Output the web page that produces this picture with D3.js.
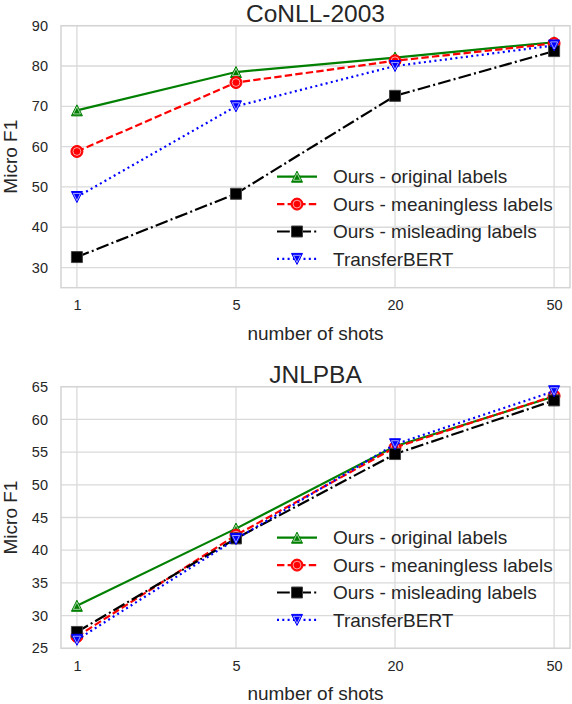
<!DOCTYPE html>
<html>
<head>
  <title>Few-shot NER</title>
  <script src="https://d3js.org/d3.v7.min.js"></script>
  <style>
    body { margin: 0; background: #fff; }
    text { font-family: "Liberation Sans", Arial, sans-serif; fill: #262626; }
    .grid line { stroke: #dadada; stroke-width: 1.3px; }
    .frame { fill: none; stroke: #d4d4d4; stroke-width: 1.5px; }
  </style>
</head>
<body>
  <svg id="chart" width="572" height="704"></svg>

  <script>
    // Data
    var shots = ["1", "5", "20", "50"];
    var seriesNames = ["Ours - original labels", "Ours - meaningless labels",
                       "Ours - misleading labels", "TransferBERT"];

    var conllOriginal    = [69.0, 78.5, 82.1, 85.9];
    var conllMeaningless = [58.8, 75.9, 81.3, 85.6];
    var conllMisleading  = [32.6, 48.3, 72.6, 83.7];
    var conllTransfer    = [47.5, 70.0, 80.0, 85.1];

    var jnlOriginal    = [31.5, 43.3, 55.9, 63.5];
    var jnlMeaningless = [26.8, 42.3, 55.7, 63.6];
    var jnlMisleading  = [27.5, 41.8, 54.7, 62.9];
    var jnlTransfer    = [26.3, 41.7, 56.2, 64.3];

    var conllTicks = [30, 40, 50, 60, 70, 80, 90];
    var jnlTicks = [25, 30, 35, 40, 45, 50, 55, 60, 65];

    // line styles: colour, dash, marker
    var styles = [
      { color: "#008000", dash: null, marker: "up" },
      { color: "#ff0000", dash: "7.4,3.2", marker: "circle" },
      { color: "#000000", dash: "12.8,3.2,2,3.2", marker: "square" },
      { color: "#0000ff", dash: "2,3.3", marker: "down" }
    ];

    // triangles centred on their bounding box, like matplotlib
    var triUp = { draw: function(ctx, size) {
      var h = Math.sqrt(size) / 2;
      ctx.moveTo(0, -h); ctx.lineTo(h, h); ctx.lineTo(-h, h); ctx.closePath();
    }};
    var triDown = { draw: function(ctx, size) {
      var h = Math.sqrt(size) / 2;
      ctx.moveTo(0, h); ctx.lineTo(h, -h); ctx.lineTo(-h, -h); ctx.closePath();
    }};
    var symbolTypes = { up: triUp, down: triDown, circle: d3.symbolCircle, square: d3.symbolSquare };
    var symbolSizes = { up: 121, down: 121, circle: 113, square: 121 };

    var svg = d3.select("#chart");
    var left = 61, right = 570;

    function drawMarker(g, style, x, y) {
      var type = symbolTypes[style.marker];
      var size = symbolSizes[style.marker];
      g.append("path")
        .attr("transform", "translate(" + x + "," + y + ")")
        .attr("d", d3.symbol().type(type).size(size)())
        .attr("fill", style.color)
        .attr("stroke", style.marker == "square" ? "#444" : style.color)
        .attr("stroke-width", 1);
      g.append("path")
        .attr("transform", "translate(" + x + "," + y + ")")
        .attr("d", d3.symbol().type(type).size(size * 0.42)())
        .attr("fill", "none")
        .attr("stroke", "#fff")
        .attr("stroke-width", 0.7)
        .attr("opacity", style.marker == "square" ? 0 : 0.9);
    }

    function panel(title, top, bottom, yDomain, yTicks, series) {
      var g = svg.append("g");

      var x = d3.scaleLinear().domain([-0.1, 3.1]).range([left, right]);
      var y = d3.scaleLinear().domain(yDomain).range([bottom, top]);

      // grid
      var grid = g.append("g").attr("class", "grid");
      grid.selectAll(".gy").data(yTicks).enter().append("line")
        .attr("x1", left).attr("x2", right)
        .attr("y1", function(d) { return y(d); })
        .attr("y2", function(d) { return y(d); });
      grid.selectAll(".gx").data(shots).enter().append("line")
        .attr("y1", top).attr("y2", bottom)
        .attr("x1", function(d, i) { return x(i); })
        .attr("x2", function(d, i) { return x(i); });

      g.append("rect").attr("class", "frame")
        .attr("x", left).attr("y", top)
        .attr("width", right - left).attr("height", bottom - top);

      // axes, seaborn style: no tick marks, no domain line
      var yAxis = g.append("g")
        .attr("transform", "translate(" + left + ",0)")
        .call(d3.axisLeft(y).tickValues(yTicks).tickSize(0).tickPadding(13));
      var xAxis = g.append("g")
        .attr("transform", "translate(0," + bottom + ")")
        .call(d3.axisBottom(x).tickValues([0, 1, 2, 3])
          .tickFormat(function(i) { return shots[i]; })
          .tickSize(0).tickPadding(12));
      [xAxis, yAxis].forEach(function(a) {
        a.select(".domain").remove();
        a.selectAll("text")
          .style("font-family", "'Liberation Sans', Arial, sans-serif")
          .style("font-size", "14.5px")
          .attr("fill", "#333");
      });

      // title and labels
      g.append("text")
        .attr("x", (left + right) / 2).attr("y", top - 4)
        .attr("text-anchor", "middle")
        .style("font-size", "24.5px")
        .text(title);
      g.append("text")
        .attr("x", (left + right) / 2).attr("y", bottom + 52)
        .attr("text-anchor", "middle")
        .style("font-size", "19px")
        .text("number of shots");
      g.append("text")
        .attr("transform", "translate(17," + (top + bottom) / 2 + ") rotate(-90)")
        .attr("text-anchor", "middle")
        .style("font-size", "19px")
        .text("Micro F1");

      // lines + markers
      var line = d3.line()
        .x(function(d, i) { return x(i); })
        .y(function(d) { return y(d); });

      series.forEach(function(values, s) {
        var st = styles[s];
        g.append("path")
          .datum(values)
          .attr("d", line)
          .attr("fill", "none")
          .attr("stroke", st.color)
          .attr("stroke-width", 2.2)
          .attr("stroke-dasharray", st.dash);
        values.forEach(function(v, i) { drawMarker(g, st, x(i), y(v)); });
      });

      // legend
      var legend = g.append("g")
        .attr("transform", "translate(277," + (top + 151) + ")");
      seriesNames.forEach(function(name, s) {
        var st = styles[s];
        var row = legend.append("g").attr("transform", "translate(0," + s * 27.4 + ")");
        row.append("line")
          .attr("x1", 0).attr("x2", 40).attr("y1", 0).attr("y2", 0)
          .attr("stroke", st.color).attr("stroke-width", 2.2)
          .attr("stroke-dasharray", st.dash);
        drawMarker(row, st, 20, 0);
        row.append("text")
          .attr("x", 56).attr("y", 0).attr("dy", "0.35em")
          .style("font-size", "19px")
          .text(name);
      });
    }

    panel("CoNLL-2003", 25.7, 287.7, [25, 90], conllTicks,
      [conllOriginal, conllMeaningless, conllMisleading, conllTransfer]);
    panel("JNLPBA", 386.7, 648.3, [25, 65], jnlTicks,
      [jnlOriginal, jnlMeaningless, jnlMisleading, jnlTransfer]);
  </script>
</body>
</html>
